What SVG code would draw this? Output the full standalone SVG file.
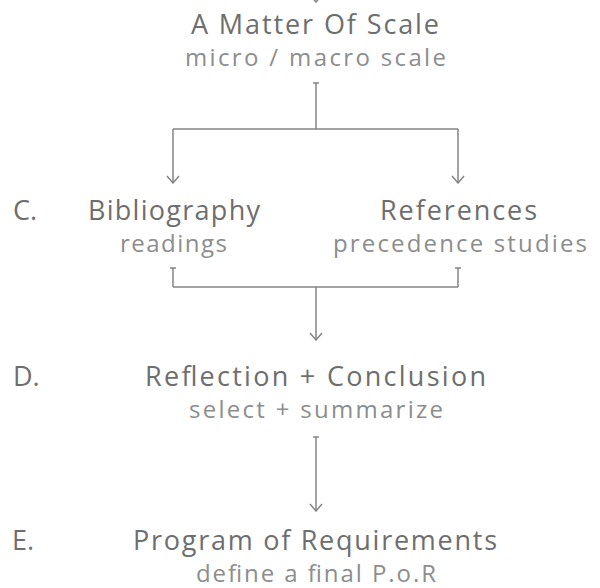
<svg xmlns="http://www.w3.org/2000/svg" width="600" height="588" viewBox="0 0 600 588">
<style>
.h{font-family:"Open Sans","Liberation Sans",sans-serif;font-size:27px;fill:#6e6e6e;text-anchor:middle}
.s{font-family:"Open Sans","Liberation Sans",sans-serif;font-size:24px;fill:#8d8d8d;text-anchor:middle}
.l{font-family:"Open Sans","Liberation Sans",sans-serif;font-size:27px;fill:#6e6e6e}
.c{fill:none;stroke:#858585;stroke-width:1.5}
</style>
<defs>
<marker id="arr" viewBox="-9 -8 10 16" refX="0" refY="0" markerWidth="10" markerHeight="16" markerUnits="userSpaceOnUse" orient="auto">
<path d="M-7,-6 L0,0 L-7,6" fill="none" stroke="#858585" stroke-width="1.5"/>
</marker>
</defs>
<g id="connectors">
<polyline class="c" points="310,-5 316,2 322,-5"/>
<path class="c" d="M313,83 H319 M316,83 V129 M173,129 H458"/>
<path class="c" d="M173,129 V183" marker-end="url(#arr)"/>
<path class="c" d="M458,129 V183" marker-end="url(#arr)"/>
<path class="c" d="M170,268 H176 M173,268 V287 M455,268 H461 M458,268 V287 M173,287 H458"/>
<path class="c" d="M316,287 V340" marker-end="url(#arr)"/>
<path class="c" d="M313,437 H319 M316,437 V511" marker-end="url(#arr)"/>
</g>
<g id="node-scale">
<text class="h" x="315" y="34" textLength="248" lengthAdjust="spacing">A Matter Of Scale</text>
<text class="s" x="315.5" y="66" textLength="261" lengthAdjust="spacing">micro / macro scale</text>
</g>
<g id="label-c"><text class="l" x="13" y="220">C.</text></g>
<g id="node-bibliography">
<text class="h" x="174" y="220" textLength="172" lengthAdjust="spacing">Bibliography</text>
<text class="s" x="173.5" y="252" textLength="107" lengthAdjust="spacing">readings</text>
</g>
<g id="node-references">
<text class="h" x="458.5" y="220" textLength="157" lengthAdjust="spacing">References</text>
<text class="s" x="460" y="252" textLength="254" lengthAdjust="spacing">precedence studies</text>
</g>
<g id="label-d"><text class="l" x="13" y="386">D.</text></g>
<g id="node-reflection">
<text class="h" x="315.5" y="386" textLength="341" lengthAdjust="spacing">Reflection + Conclusion</text>
<text class="s" x="316" y="418" textLength="254" lengthAdjust="spacing">select + summarize</text>
</g>
<g id="label-e"><text class="l" x="12" y="550">E.</text></g>
<g id="node-program">
<text class="h" x="315" y="550" textLength="364" lengthAdjust="spacing">Program of Requirements</text>
<text class="s" x="316" y="582" textLength="240" lengthAdjust="spacing">define a final P.o.R</text>
</g>
</svg>
